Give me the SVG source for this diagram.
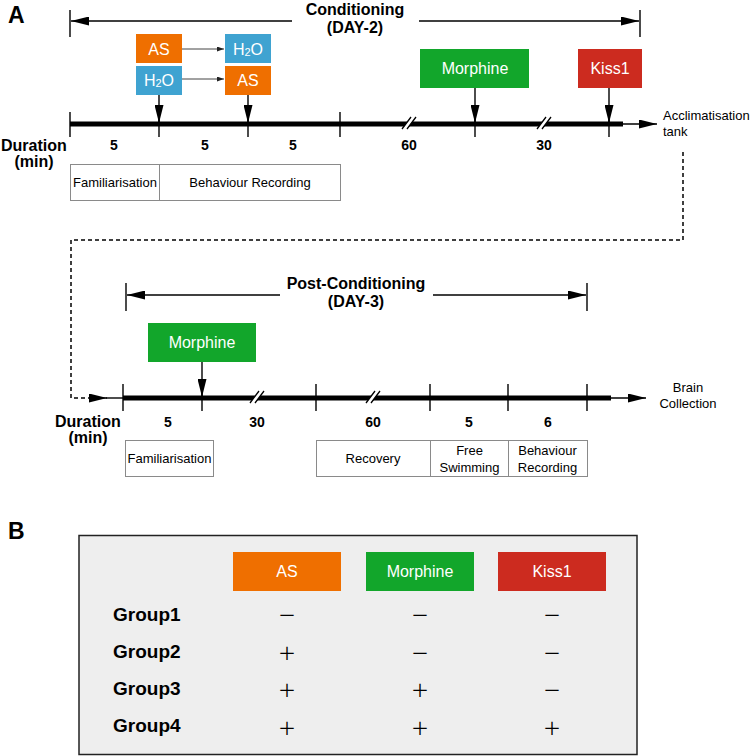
<svg xmlns="http://www.w3.org/2000/svg" width="751" height="756" viewBox="0 0 751 756">
<defs>
<style>
text{font-family:"Liberation Sans",Arial,Helvetica,sans-serif;fill:#000}
.panel{font-weight:bold;font-size:23px}
.title{font-weight:bold;font-size:16px;text-anchor:middle}
.num{font-weight:bold;font-size:14px;text-anchor:middle}
.dur{font-weight:bold;font-size:16px}
.wt{fill:#fff;font-size:16px;text-anchor:middle}
.small{font-size:13px;text-anchor:middle}
.side{font-size:13px}
.grp{font-weight:bold;font-size:19px}
.sign{font-family:Inter,"Liberation Sans",sans-serif;font-weight:200;font-size:31px;text-anchor:middle}
.ln{stroke:#000;stroke-width:1.4;fill:none}
.thick{stroke:#000;stroke-width:5;fill:none}
.thin{stroke:#444;stroke-width:1;fill:none}
.box{fill:#fff;stroke:#8a8a8a;stroke-width:1}
.dash{stroke:#000;stroke-width:1.5;fill:none;stroke-dasharray:4 3}
.or{fill:#ef6f00}
.bl{fill:#3fa3d1}
.gr{fill:#12a62b}
.rd{fill:#cc2b1f}
</style>
<marker id="ah" viewBox="0 0 18 9" refX="18" refY="4.5" markerWidth="18" markerHeight="9" markerUnits="userSpaceOnUse" orient="auto">
<path d="M0 0 L18 4.5 L0 9 Z" fill="#000"/>
</marker>
<marker id="ahs" viewBox="0 0 7 5" refX="7" refY="2.5" markerWidth="7" markerHeight="5" markerUnits="userSpaceOnUse" orient="auto">
<path d="M0 0 L7 2.5 L0 5 Z" fill="#222"/>
</marker>
<g id="brk">
<polygon points="-8,6 -3,6 6,-6 1,-6" fill="#fff"/>
<path d="M-8 6 L1 -6 M-3 6 L6 -6" stroke="#000" stroke-width="1.3"/>
</g>
</defs>
<rect width="751" height="756" fill="#fff"/>

<!-- Panel A -->
<g id="label-A"><text class="panel" x="8" y="23">A</text></g>

<g id="conditioning-bracket">
<path class="ln" d="M70 10 V37 M640 10 V37"/>
<line class="ln" x1="292" y1="21" x2="71" y2="21" marker-end="url(#ah)"/>
<line class="ln" x1="419" y1="21" x2="639" y2="21" marker-end="url(#ah)"/>
<text class="title" x="355" y="15">Conditioning</text>
<text class="title" x="355" y="33">(DAY-2)</text>
</g>

<g id="node-AS-1"><rect class="or" x="136" y="34" width="46" height="29"/><text class="wt" x="159" y="54.5">AS</text></g>
<g id="node-H2O-1"><rect class="bl" x="225" y="34" width="46" height="29"/><text class="wt" x="248" y="54.5">H<tspan font-size="11" dy="1">2</tspan><tspan dy="-1">O</tspan></text></g>
<g id="node-H2O-2"><rect class="bl" x="136" y="66" width="46" height="29"/><text class="wt" x="159" y="86">H<tspan font-size="11" dy="1">2</tspan><tspan dy="-1">O</tspan></text></g>
<g id="node-AS-2"><rect class="or" x="225" y="66" width="46" height="29"/><text class="wt" x="248" y="86">AS</text></g>
<g id="node-morphine-A"><rect class="gr" x="420" y="49" width="109" height="39"/><text class="wt" x="475" y="74">Morphine</text></g>
<g id="node-kiss1-A"><rect class="rd" x="578" y="49" width="64" height="39"/><text class="wt" x="610" y="74">Kiss1</text></g>

<g id="timeline-A">
<line class="thick" x1="70" y1="124" x2="623" y2="124"/>
<line class="ln" x1="622" y1="124" x2="657" y2="124" marker-end="url(#ah)"/>
<path class="ln" d="M70 112 V137 M159 112 V137 M248 112 V137 M340 112 V137 M475 112 V137 M609 112 V137"/>
<use href="#brk" x="410" y="123"/>
<use href="#brk" x="545" y="123"/>
<text class="side" x="663" y="120">Acclimatisation</text>
<text class="side" x="663" y="136">tank</text>
<text class="dur" x="1" y="151">Duration</text>
<text class="dur" x="34" y="167" text-anchor="middle">(min)</text>
<text class="num" x="114" y="150">5</text>
<text class="num" x="205" y="150">5</text>
<text class="num" x="293" y="150">5</text>
<text class="num" x="409" y="150">60</text>
<text class="num" x="544" y="150">30</text>
</g>

<g id="node-familiarisation-A"><rect class="box" x="70.5" y="164.5" width="89" height="36"/><text class="small" x="115" y="187">Familiarisation</text></g>
<g id="node-behaviour-A"><rect class="box" x="159.5" y="164.5" width="181" height="36"/><text class="small" x="250" y="187">Behaviour Recording</text></g>

<g id="connectors">
<line class="thin" x1="182" y1="49" x2="224" y2="49" marker-end="url(#ahs)"/>
<line class="thin" x1="182" y1="79" x2="224" y2="79" marker-end="url(#ahs)"/>
<line class="ln" x1="159" y1="95" x2="159" y2="123" marker-end="url(#ah)"/>
<line class="ln" x1="248" y1="95" x2="248" y2="123" marker-end="url(#ah)"/>
<line class="ln" x1="475" y1="88" x2="475" y2="123" marker-end="url(#ah)"/>
<line class="ln" x1="609" y1="88" x2="609" y2="123" marker-end="url(#ah)"/>
<path class="dash" d="M683 152 V240 H71 V398 H90"/>
<line class="ln" x1="89" y1="398" x2="107" y2="398" marker-end="url(#ah)"/>
<line class="ln" x1="106" y1="398" x2="123" y2="398"/>
<line class="ln" x1="202" y1="362" x2="202" y2="397" marker-end="url(#ah)"/>
</g>

<g id="postconditioning-bracket">
<path class="ln" d="M126 283 V311 M587 283 V311"/>
<line class="ln" x1="280" y1="295" x2="127" y2="295" marker-end="url(#ah)"/>
<line class="ln" x1="433" y1="295" x2="586" y2="295" marker-end="url(#ah)"/>
<text class="title" x="356" y="289">Post-Conditioning</text>
<text class="title" x="356" y="307">(DAY-3)</text>
</g>

<g id="node-morphine-B"><rect class="gr" x="148" y="323" width="108" height="39"/><text class="wt" x="202" y="348">Morphine</text></g>

<g id="timeline-B">
<line class="thick" x1="123" y1="398" x2="611" y2="398"/>
<line class="ln" x1="610" y1="398" x2="646" y2="398" marker-end="url(#ah)"/>
<path class="ln" d="M123 384 V411 M202 384 V411 M316 384 V411 M430 384 V411 M508 384 V411 M587 384 V411"/>
<use href="#brk" x="258" y="397"/>
<use href="#brk" x="374" y="397"/>
<text class="side" x="688" y="392" text-anchor="middle">Brain</text>
<text class="side" x="688" y="408" text-anchor="middle">Collection</text>
<text class="dur" x="55" y="427">Duration</text>
<text class="dur" x="88" y="443" text-anchor="middle">(min)</text>
<text class="num" x="168" y="427">5</text>
<text class="num" x="257" y="427">30</text>
<text class="num" x="373" y="427">60</text>
<text class="num" x="469" y="427">5</text>
<text class="num" x="548" y="427">6</text>
</g>

<g id="node-familiarisation-B"><rect class="box" x="125.5" y="440.5" width="88" height="36"/><text class="small" x="169.5" y="463">Familiarisation</text></g>
<g id="node-recovery"><rect class="box" x="316.5" y="440.5" width="114" height="36"/><text class="small" x="373" y="463">Recovery</text></g>
<g id="node-free-swimming"><rect class="box" x="430.5" y="440.5" width="78" height="36"/><text class="small" x="469.5" y="455">Free</text><text class="small" x="469.5" y="472">Swimming</text></g>
<g id="node-behaviour-B"><rect class="box" x="508.5" y="440.5" width="79" height="36"/><text class="small" x="547.5" y="455">Behaviour</text><text class="small" x="547.5" y="472">Recording</text></g>

<!-- Panel B -->
<g id="label-B"><text class="panel" x="8" y="539">B</text></g>
<g id="table">
<rect x="79" y="535.5" width="558" height="219" fill="#eeeeee" stroke="#222" stroke-width="1.5"/>
<rect class="or" x="233" y="552" width="108" height="39"/><text class="wt" x="287" y="577">AS</text>
<rect class="gr" x="366" y="552" width="108" height="39"/><text class="wt" x="420" y="577">Morphine</text>
<rect class="rd" x="498" y="552" width="108" height="39"/><text class="wt" x="552" y="577">Kiss1</text>
<text class="grp" x="113" y="621">Group1</text>
<text class="grp" x="113" y="658">Group2</text>
<text class="grp" x="113" y="695">Group3</text>
<text class="grp" x="113" y="732">Group4</text>
<text class="sign" x="287" y="624">−</text><text class="sign" x="420" y="624">−</text><text class="sign" x="552" y="624">−</text>
<text class="sign" x="287" y="662">+</text><text class="sign" x="420" y="662">−</text><text class="sign" x="552" y="662">−</text>
<text class="sign" x="287" y="699">+</text><text class="sign" x="420" y="699">+</text><text class="sign" x="552" y="699">−</text>
<text class="sign" x="287" y="737">+</text><text class="sign" x="420" y="737">+</text><text class="sign" x="552" y="737">+</text>
</g>
</svg>
